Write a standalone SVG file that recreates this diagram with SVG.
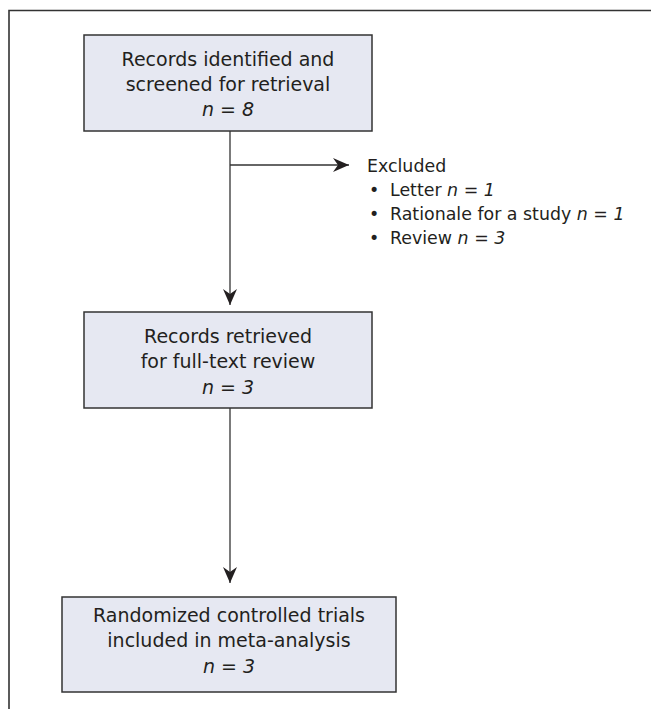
<svg xmlns="http://www.w3.org/2000/svg" width="651" height="709" viewBox="0 0 651 709">
<defs>
<style>
.box{fill:#e6e8f2;stroke:#333;stroke-width:1.5}
.t{font-family:"DejaVu Sans","Noto Sans",sans-serif;font-size:19px;fill:#231f20;text-anchor:middle}
.l{font-family:"DejaVu Sans","Noto Sans",sans-serif;font-size:17.4px;fill:#231f20}
.c{fill:none;stroke:#333;stroke-width:1.3}
.i{font-style:italic}
</style>
<marker id="ah" viewBox="0 0 16 14" refX="16" refY="7" markerWidth="16" markerHeight="14" markerUnits="userSpaceOnUse" orient="auto">
<path d="M0,0 L16,7 L0,14 L5,7 Z" fill="#231f20"/>
</marker>
</defs>
<rect width="651" height="709" fill="#fff"/>
<path d="M9,709 V10.5 H651" fill="none" stroke="#333" stroke-width="1.6"/>
<g id="connectors">
<line class="c" x1="230" y1="131" x2="230" y2="305" marker-end="url(#ah)"/>
<line class="c" x1="230" y1="165" x2="349" y2="165" marker-end="url(#ah)"/>
<line class="c" x1="230" y1="408" x2="230" y2="583" marker-end="url(#ah)"/>
</g>
<g id="n1">
<rect class="box" x="84" y="35" width="288" height="96"/>
<text class="t" x="228" y="66">Records identified and</text>
<text class="t" x="228" y="91">screened for retrieval</text>
<text class="t" x="228" y="116"><tspan class="i">n</tspan> = <tspan class="i">8</tspan></text>
</g>
<g id="excluded">
<text class="l" x="367" y="172">Excluded</text>
<text class="l" x="369" y="196">•</text>
<text class="l" x="390" y="196">Letter <tspan class="i">n</tspan> = <tspan class="i">1</tspan></text>
<text class="l" x="369" y="220">•</text>
<text class="l" x="390" y="220">Rationale for a study <tspan class="i">n</tspan> = <tspan class="i">1</tspan></text>
<text class="l" x="369" y="244">•</text>
<text class="l" x="390" y="244">Review <tspan class="i">n</tspan> = <tspan class="i">3</tspan></text>
</g>
<g id="n2">
<rect class="box" x="84" y="312" width="288" height="96"/>
<text class="t" x="228" y="343">Records retrieved</text>
<text class="t" x="228" y="368">for full-text review</text>
<text class="t" x="228" y="394"><tspan class="i">n</tspan> = <tspan class="i">3</tspan></text>
</g>
<g id="n3">
<rect class="box" x="62" y="597" width="334" height="95"/>
<text class="t" x="229" y="622">Randomized controlled trials</text>
<text class="t" x="229" y="647">included in meta-analysis</text>
<text class="t" x="229" y="673"><tspan class="i">n</tspan> = <tspan class="i">3</tspan></text>
</g>
</svg>
